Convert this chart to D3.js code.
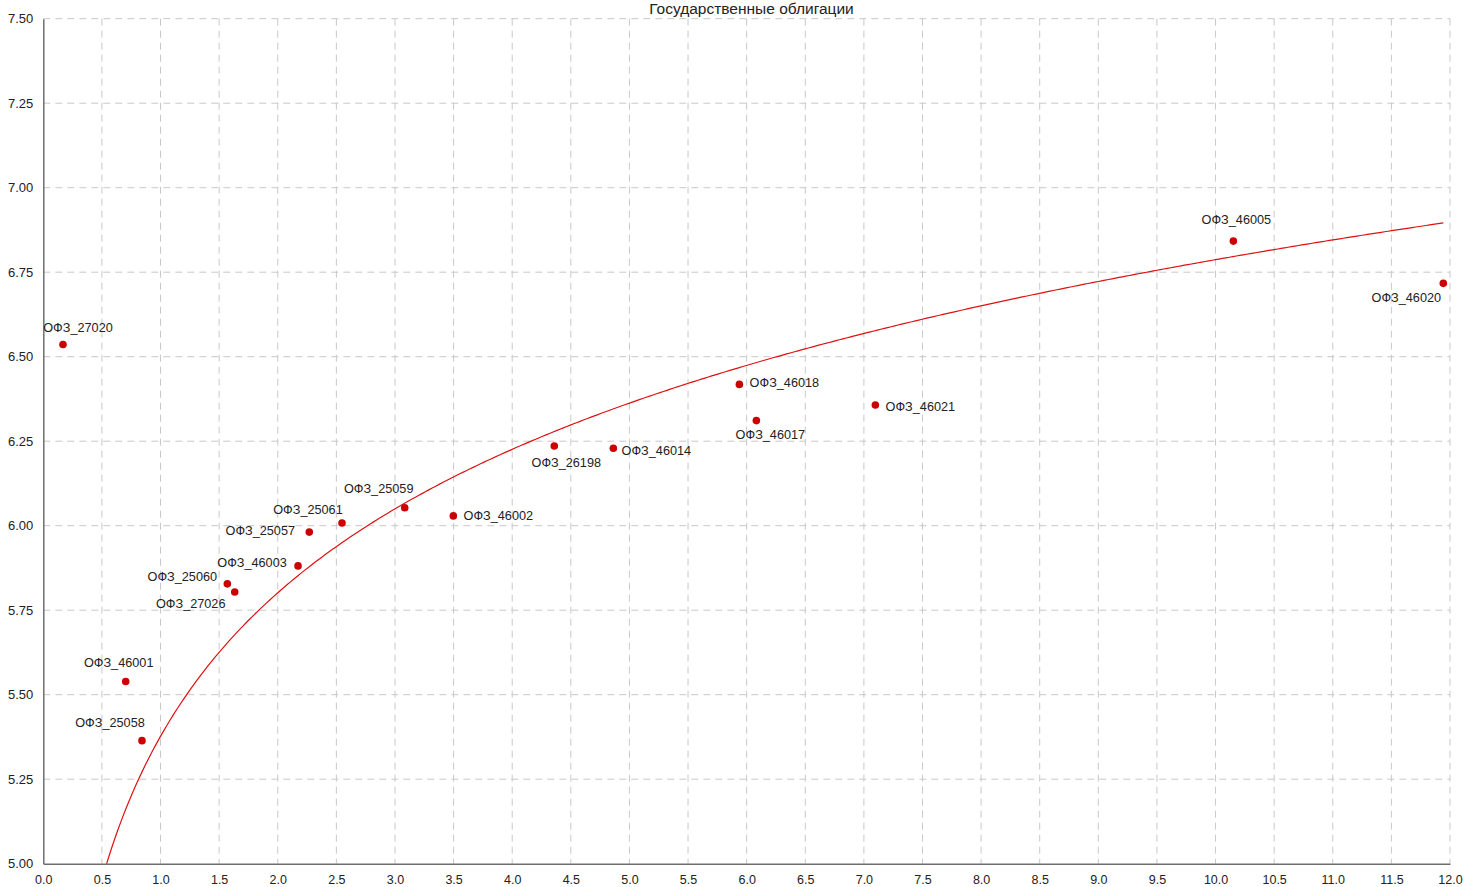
<!DOCTYPE html>
<html>
<head>
<meta charset="utf-8">
<script src="https://cdn.jsdelivr.net/npm/d3@7"></script>
<style>
	body { margin: 0; background: #fff; }
	svg { display: block; font-family: "Liberation Sans", Arial, sans-serif; }
</style>
</head>
<body>
<script>
'use strict';

let names = ['ОФЗ_27020','ОФЗ_46001','ОФЗ_25058','ОФЗ_25060','ОФЗ_27026','ОФЗ_46003','ОФЗ_25057','ОФЗ_25061','ОФЗ_25059',
	'ОФЗ_46002','ОФЗ_26198','ОФЗ_46014','ОФЗ_46018','ОФЗ_46017','ОФЗ_46021','ОФЗ_46005','ОФЗ_46020'];
let durations = [0.168,0.703,0.842,1.570,1.633,2.173,2.269,2.548,3.083,3.498,4.359,4.863,5.938,6.083,7.098,10.152,11.943];
let yields = [6.536,5.539,5.364,5.828,5.804,5.881,5.981,6.008,6.053,6.029,6.236,6.229,6.418,6.311,6.357,6.842,6.717];

// log trend: y = a + b*ln(x)
let trendA = 5.377;
let trendB = 0.6124;

let xTicks = d3.range(0, 12.01, 0.5);
let yTicks = [5.00,5.25,5.50,5.75,6.00,6.25,6.50,6.75,7.00,7.25,7.50];

let title = 'Государственные облигации';

// label offsets (centre of text relative to point), px
let labelOffset = {
	'ОФЗ_27020':[15,-17], 'ОФЗ_46001':[-7,-19], 'ОФЗ_25058':[-32,-18], 'ОФЗ_25060':[-45,-7],
	'ОФЗ_27026':[-44,12], 'ОФЗ_46003':[-46,-3], 'ОФЗ_25057':[-49,-2], 'ОФЗ_25061':[-34,-13],
	'ОФЗ_25059':[-26,-19], 'ОФЗ_46002':[45,0], 'ОФЗ_26198':[12,17], 'ОФЗ_46014':[43,2],
	'ОФЗ_46018':[45,-2], 'ОФЗ_46017':[14,14], 'ОФЗ_46021':[45,2], 'ОФЗ_46005':[3,-22], 'ОФЗ_46020':[-37,14]
};

let data = names.map(function(n,i){ return {name:n, x:durations[i], y:yields[i]}; });

let W = 1463, H = 887;
let margin = {left:43.3, right:13, top:18.7, bottom:23.3};
let width = W - margin.left - margin.right;
let height = H - margin.top - margin.bottom;

let x = d3.scaleLinear().domain([0,12]).range([0,width]);
let y = d3.scaleLinear().domain([5,7.5]).range([height,0]);

let svg = d3.select('body').append('svg').attr('width',W).attr('height',H);

svg.append('defs').append('clipPath').attr('id','plot')
	.append('rect').attr('width',width).attr('height',height);

let g = svg.append('g').attr('transform','translate('+margin.left+','+margin.top+')');

// grid
g.append('g').selectAll('line').data(xTicks.slice(1)).enter().append('line')
	.attr('x1',function(d){ return x(d); }).attr('x2',function(d){ return x(d); })
	.attr('y1',0).attr('y2',height)
	.attr('stroke','#c8c8c8').attr('stroke-dasharray','7,5');
g.append('g').selectAll('line').data(yTicks.slice(1)).enter().append('line')
	.attr('y1',function(d){ return y(d); }).attr('y2',function(d){ return y(d); })
	.attr('x1',0).attr('x2',width)
	.attr('stroke','#c8c8c8').attr('stroke-dasharray','7,5');

// axes
let xAxis = d3.axisBottom(x).tickValues(xTicks).tickSize(0).tickPadding(11).tickFormat(d3.format('.1f'));
let yAxis = d3.axisLeft(y).tickValues(yTicks).tickSize(0).tickPadding(10).tickFormat(d3.format('.2f'));

g.append('g').attr('transform','translate(0,'+height+')').call(xAxis)
	.call(function(a){
		a.select('.domain').attr('stroke','#6e6e6e').attr('stroke-width',1.5);
		a.selectAll('text').attr('font-size',12.5).attr('fill','#222').attr('font-family',null);
	});
g.append('g').call(yAxis)
	.call(function(a){
		a.select('.domain').attr('stroke','#6e6e6e').attr('stroke-width',1.5);
		a.selectAll('text').attr('font-size',13).attr('fill','#222').attr('font-family',null);
	});

// trend
let xmin = d3.min(durations), xmax = d3.max(durations);
let trendX = d3.range(0, 401).map(function(i){ return xmin + (xmax - xmin) * i / 400; });
let line = d3.line()
	.x(function(d){ return x(d); })
	.y(function(d){ return y(trendA + trendB * Math.log(d)); });
g.append('path').attr('clip-path','url(#plot)')
	.attr('d',line(trendX))
	.attr('fill','none').attr('stroke','#dd1111').attr('stroke-width',1.2);

// points
g.append('g').selectAll('circle').data(data).enter().append('circle')
	.attr('cx',function(d){ return x(d.x); })
	.attr('cy',function(d){ return y(d.y); })
	.attr('r',3.8)
	.attr('fill','#cc0000');

g.append('g').selectAll('text').data(data).enter().append('text')
	.attr('x',function(d){ return x(d.x) + labelOffset[d.name][0]; })
	.attr('y',function(d){ return y(d.y) + labelOffset[d.name][1]; })
	.attr('dy','0.35em')
	.attr('text-anchor','middle')
	.attr('font-size',12.7)
	.attr('fill','#222')
	.text(function(d){ return d.name; });

svg.append('text')
	.attr('x',751.5).attr('y',13.8)
	.attr('text-anchor','middle')
	.attr('font-size',15.5)
	.attr('fill','#222')
	.text(title);
</script>
</body>
</html>
